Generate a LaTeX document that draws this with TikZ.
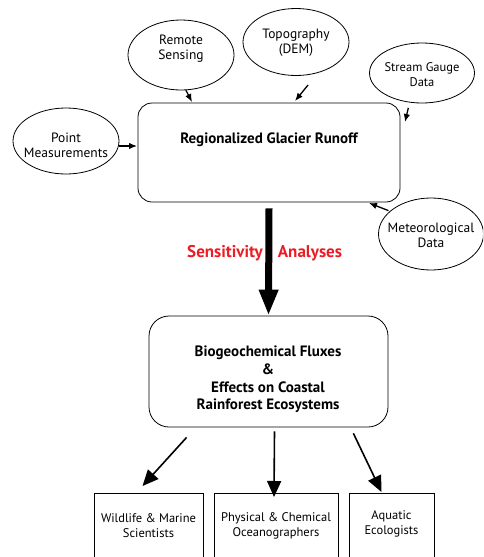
\documentclass[tikz,border=0pt]{standalone}
\usepackage{fontspec}
\setmainfont{PT Sans}
\usetikzlibrary{arrows.meta,shapes.geometric,calc}
\definecolor{sred}{RGB}{237,28,36}
\tikzset{
  src/.style={draw,line width=0.8pt,ellipse,minimum width=#1,inner sep=0pt},
  srctext/.style={align=center,inner sep=0pt,font=\fontsize{13.5}{15}\selectfont},
  bigbox/.style={draw,line width=0.8pt,rounded corners=14pt,inner sep=0pt},
  aud/.style={draw,line width=0.8pt,inner sep=0pt,anchor=north},
  inarr/.style={line width=1.3pt,-{Latex[length=8pt,width=6.5pt]}},
  outarr/.style={line width=1.6pt,-{Triangle[length=16pt,width=14pt]}},
  lbl/.style={align=center,font=\fontsize{12.5}{15}\selectfont},
}
\begin{document}
\begin{tikzpicture}[x=1pt,y=-1pt]
\useasboundingbox (0,0) rectangle (483,557);
\clip (0,0) rectangle (483,557);
% sources
\node[src=106pt,minimum height=70pt] (rs) at (181,55) {};
\node[srctext] (rst) at (181,49) {Remote\\Sensing};
\node[src=106pt,minimum height=67pt] (topo) at (296,42) {};
\node[srctext] (topot) at (296,42.5) {Topography\\(DEM)};
\node[src=105pt,minimum height=60pt] (sg) at (422,73) {};
\node[srctext,font=\fontsize{12.5}{15}\selectfont] (sgt) at (422,74.5) {Stream Gauge\\Data};
\node[src=106pt,minimum height=66pt] (pm) at (66,141) {};
\node[srctext] (pmt) at (66,145) {Point\\Measurements};
\node[src=105pt,minimum height=72pt] (met) at (431,234) {};
\node[srctext] (mett) at (431,235) {Meteorological\\Data};
% main box
\node[bigbox,minimum width=262pt,minimum height=99pt] (main) at (269,152.5) {};
\node[font=\bfseries\fontsize{15}{17}\selectfont] (maint) at (269,140) {Regionalized Glacier Runoff};
% input arrows
\coordinate (rsE) at (192,102);
\coordinate (topoE) at (295,101);
\coordinate (sgE) at (405,122);
\coordinate (pmE) at (137,146);
\coordinate (metE) at (369,203);
\draw[inarr] (rs.-82) -- (rsE);
\draw[inarr] ($(topo.-70)+(0,10)$) -- (topoE);
\draw[inarr] ($(sg.-120)+(3,6)$) -- (sgE);
\draw[inarr] ($(pm.east)+(0,5)$) -- (pmE);
\draw[inarr] ($(met.150)+(-2,0)$) -- (metE);
% big arrow
\node[bigbox,rounded corners=20pt,minimum width=239pt,minimum height=111pt] (bio) at (268.5,371.5) {};
\node[align=center,font=\bfseries\fontsize{15}{17.7}\selectfont] (biot) at (268,379.5) {Biogeochemical Fluxes\\\&\\Effects on Coastal\\Rainforest Ecosystems};
\draw[line width=7pt,-{Triangle[length=26pt,width=18pt]}] ($(main.south)+(0,6)$) -- (bio.north);
\node[font=\bfseries\fontsize{17}{19}\selectfont,text=sred] (sens) at (225,253) {Sensitivity};
\node[font=\bfseries\fontsize{17}{19}\selectfont,text=sred] (anal) at (310,253) {Analyses};
% audiences
\node[aud,minimum width=109pt,minimum height=80pt] (wl) at (148.5,493) {};
\node[aud,minimum width=124pt,minimum height=80pt] (pc) at (276,493) {};
\node[aud,minimum width=85pt,minimum height=80pt] (ae) at (391.5,493) {};
\node[lbl] (wlt) at (148.5,526) {Wildlife \& Marine\\Scientists};
\node[lbl] (pct) at (276,526) {Physical \& Chemical\\Oceanographers};
\node[lbl] (aet) at (391.5,524) {Aquatic\\Ecologists};
\draw[outarr] ($(bio.south west)+(38,10)$) -- ($(wl.north)+(-6,-7)$);
\draw[outarr] ($(bio.south)+(6,4)$) -- ($(pc.north)+(-2,4)$);
\draw[outarr] ($(bio.south east)+(-35,6)$) -- ($(ae.north)+(-10,-1)$);
\end{tikzpicture}
\end{document}
